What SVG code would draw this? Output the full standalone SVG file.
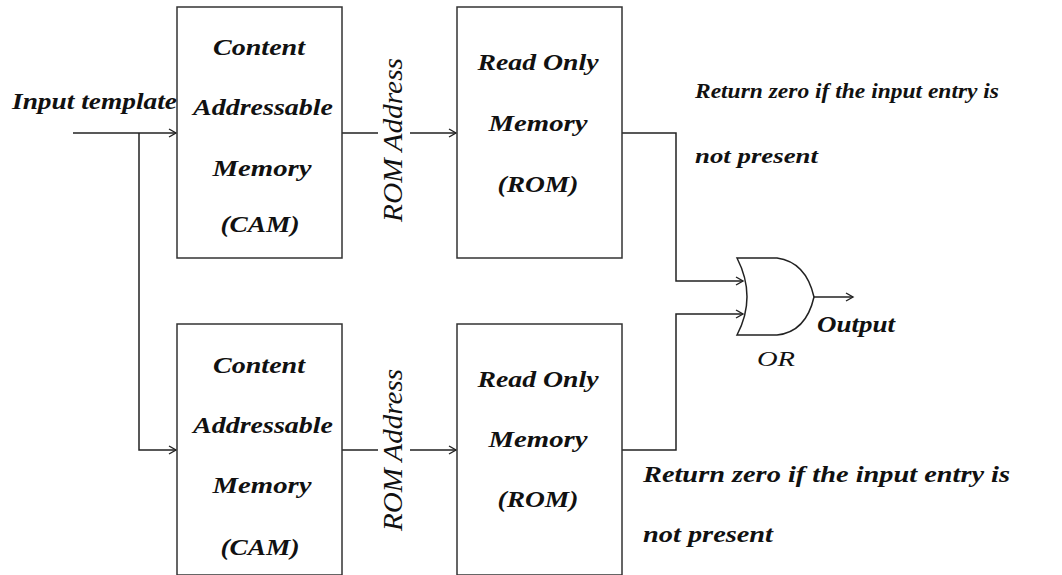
<svg xmlns="http://www.w3.org/2000/svg" width="1062" height="575" viewBox="0 0 1062 575">
<style>
.box{fill:#fff;stroke:#333;stroke-width:1.5}
.ln{fill:none;stroke:#222;stroke-width:1.5}
.t{font-family:"Liberation Serif","Times New Roman",serif;font-style:italic;font-weight:bold;font-size:23px;fill:#111}
.c{text-anchor:middle}
.ra{font-family:"Liberation Serif","Times New Roman",serif;font-style:italic;font-size:27px;fill:#111;text-anchor:middle}
</style>
<defs>
<marker id="arr" markerWidth="10" markerHeight="10" refX="8" refY="5" orient="auto" markerUnits="userSpaceOnUse">
<path d="M1,1 L8,5 L1,9" fill="none" stroke="#222" stroke-width="1.4"/>
</marker>
</defs>
<rect width="1062" height="575" fill="#fff"/>
<g id="connectors">
<path class="ln" d="M73,133 H176" marker-end="url(#arr)"/>
<path class="ln" d="M139,133 V450 H176" marker-end="url(#arr)"/>
<path class="ln" d="M342,133 H378 M410,133 H456" marker-end="url(#arr)"/>
<path class="ln" d="M342,450 H378 M410,450 H456" marker-end="url(#arr)"/>
<path class="ln" d="M622,133 H676 V281 H743" marker-end="url(#arr)"/>
<path class="ln" d="M622,450 H676 V314 H743" marker-end="url(#arr)"/>
<path class="ln" d="M814,297 H853" marker-end="url(#arr)"/>
</g>
<g id="cam-top">
<rect class="box" x="177" y="7" width="165" height="251"/>
<text class="t c" x="259" y="55" textLength="92" lengthAdjust="spacingAndGlyphs">Content</text>
<text class="t c" x="263" y="115" textLength="140" lengthAdjust="spacingAndGlyphs">Addressable</text>
<text class="t c" x="262" y="176" textLength="99" lengthAdjust="spacingAndGlyphs">Memory</text>
<text class="t c" x="260" y="232" textLength="79" lengthAdjust="spacingAndGlyphs">(CAM)</text>
</g>
<g id="cam-bottom">
<rect class="box" x="177" y="324" width="165" height="251"/>
<text class="t c" x="259" y="373" textLength="92" lengthAdjust="spacingAndGlyphs">Content</text>
<text class="t c" x="263" y="433" textLength="140" lengthAdjust="spacingAndGlyphs">Addressable</text>
<text class="t c" x="262" y="493" textLength="99" lengthAdjust="spacingAndGlyphs">Memory</text>
<text class="t c" x="260" y="555" textLength="79" lengthAdjust="spacingAndGlyphs">(CAM)</text>
</g>
<g id="rom-top">
<rect class="box" x="457" y="7" width="165" height="251"/>
<text class="t c" x="538" y="70" textLength="121" lengthAdjust="spacingAndGlyphs">Read Only</text>
<text class="t c" x="538" y="131" textLength="99" lengthAdjust="spacingAndGlyphs">Memory</text>
<text class="t c" x="538" y="192" textLength="81" lengthAdjust="spacingAndGlyphs">(ROM)</text>
</g>
<g id="rom-bottom">
<rect class="box" x="457" y="324" width="165" height="251"/>
<text class="t c" x="538" y="387" textLength="121" lengthAdjust="spacingAndGlyphs">Read Only</text>
<text class="t c" x="538" y="447" textLength="99" lengthAdjust="spacingAndGlyphs">Memory</text>
<text class="t c" x="538" y="507" textLength="81" lengthAdjust="spacingAndGlyphs">(ROM)</text>
</g>
<g id="label-rom-address-top">
<text class="ra" transform="translate(402,140) rotate(-90)" textLength="164" lengthAdjust="spacingAndGlyphs">ROM Address</text>
</g>
<g id="label-rom-address-bottom">
<text class="ra" transform="translate(402,450) rotate(-90)" textLength="162" lengthAdjust="spacingAndGlyphs">ROM Address</text>
</g>
<g id="or-gate">
<path class="ln" d="M737,258 L777,258 Q806,262 814,297 Q806,332 777,335 L737,335 Q757,297 737,258 Z" fill="#fff"/>
<text class="t" x="757" y="366" style="font-weight:normal;font-size:22px" textLength="38" lengthAdjust="spacingAndGlyphs">OR</text>
</g>
<g id="labels">
<text class="t" x="12" y="109" textLength="165" lengthAdjust="spacingAndGlyphs">Input template</text>
<text class="t" x="817" y="332" textLength="78" lengthAdjust="spacingAndGlyphs">Output</text>
<text class="t" x="695" y="98" style="font-size:20px" textLength="304" lengthAdjust="spacingAndGlyphs">Return zero if the input entry is</text>
<text class="t" x="695" y="163" style="font-size:20px" textLength="123" lengthAdjust="spacingAndGlyphs">not present</text>
<text class="t" x="643" y="482" textLength="367" lengthAdjust="spacingAndGlyphs">Return zero if the input entry is</text>
<text class="t" x="643" y="542" textLength="130" lengthAdjust="spacingAndGlyphs">not present</text>
</g>
</svg>
